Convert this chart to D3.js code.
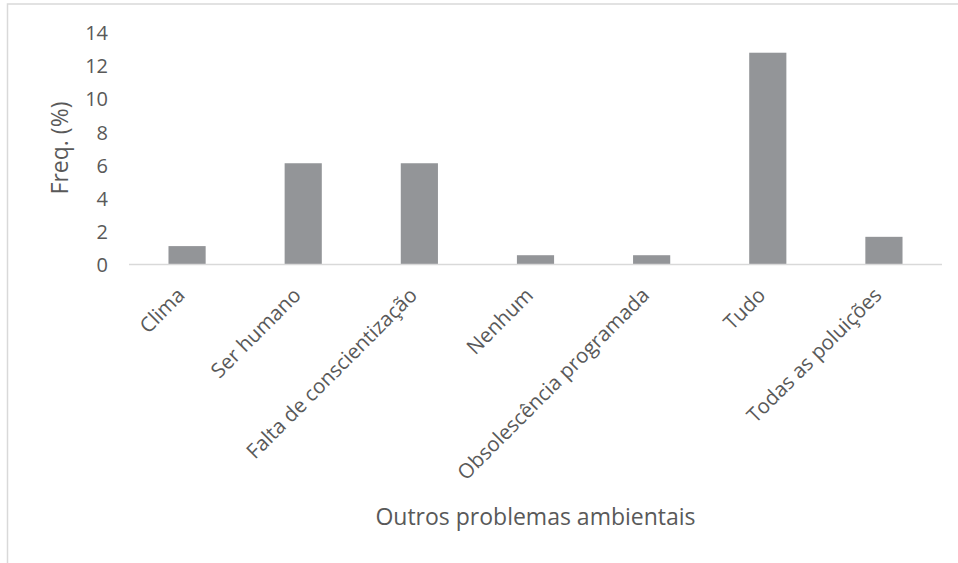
<!DOCTYPE html>
<html><head><meta charset="utf-8">
<script src="https://cdn.jsdelivr.net/npm/d3@7"></script>
<style>
html,body{margin:0;padding:0;background:#fff;}
svg{display:block;}
text{font-family:"Open Sans",sans-serif;fill:#595959;}
</style></head>
<body>
<svg id="chart" width="958" height="563"></svg>
<script>
const categories = ["Clima","Ser humano","Falta de conscientização","Nenhum","Obsolescência programada","Tudo","Todas as poluições"];
const values = [1.11, 6.11, 6.11, 0.56, 0.56, 12.78, 1.67];
const yTicks = [0,2,4,6,8,10,12,14];
const yTitle = "Freq. (%)";
const xTitle = "Outros problemas ambientais";

const svg = d3.select("#chart");
const W = 958, H = 563;
const m = {left:129, right:958-942, top:32.5, bottom:563-264.5};

// chart border
svg.append("path")
  .attr("d", `M7.5,${H} L7.5,4 L${W},4`)
  .attr("fill","none").attr("stroke","#d9d9d9").attr("stroke-width",1.5);

const x = d3.scaleBand().domain(categories).range([m.left, W-m.right]).paddingInner(0.68).paddingOuter(0.34);
const y = d3.scaleLinear().domain([0,14]).range([H-m.bottom, m.top]);

const data = categories.map((c,i)=>({c, v:values[i]}));

svg.append("g").selectAll("rect").data(data).join("rect")
  .attr("x", d=>x(d.c)).attr("width", x.bandwidth())
  .attr("y", d=>y(d.v)).attr("height", d=>y(0)-y(d.v))
  .attr("fill","#939598");

// y axis (labels only)
const ya = svg.append("g").attr("transform",`translate(${m.left},0)`)
  .call(d3.axisLeft(y).tickValues(yTicks).tickSize(0).tickPadding(21));
ya.select(".domain").remove();
ya.selectAll("text").style("font-size","20px").attr("fill","#595959").attr("dy","0.36em");

// x axis
const xa = svg.append("g").attr("transform",`translate(0,${y(0)})`)
  .call(d3.axisBottom(x).tickSize(0).tickFormat(""));
xa.select(".domain").attr("stroke","#d9d9d9").attr("stroke-width",1.5)
  .attr("d", `M${m.left},0H${W-m.right}`);

svg.append("g").selectAll("text").data(categories).join("text")
  .attr("transform", d=>`translate(${x(d)+x.bandwidth()/2-1},${y(0)+32}) rotate(-45)`)
  .attr("text-anchor","end")
  .style("font-size","20.5px")
  .text(d=>d);

svg.append("text")
  .attr("transform",`translate(68,148) rotate(-90)`)
  .attr("text-anchor","middle")
  .style("font-size","23px")
  .text(yTitle);

svg.append("text")
  .attr("x",(m.left+W-m.right)/2).attr("y",525)
  .attr("text-anchor","middle")
  .style("font-size","23px")
  .text(xTitle);
</script>
</body></html>
